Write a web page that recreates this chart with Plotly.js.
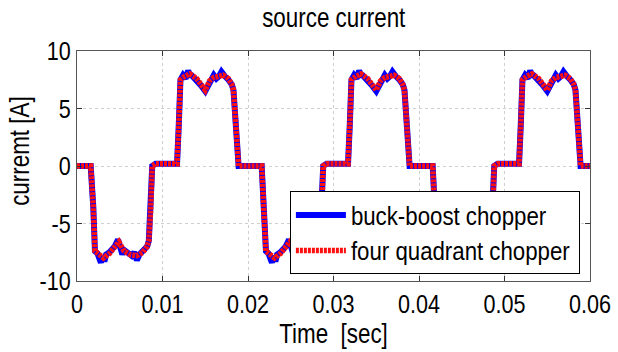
<!DOCTYPE html>
<html>
<head>
<meta charset="utf-8">
<script src="https://cdn.plot.ly/plotly-3.0.1.min.js"></script>
<style>html,body{margin:0;padding:0;background:#fff;}#chart{width:618px;height:352px;}</style>
</head>
<body>
<div id="chart"></div>
<script>
// Buck-boost chopper (blue, with small switching spikes)
var timeBuckBoost = [
  0, 0.0016, 0.0019, 0.0021, 0.0024, 0.0026, 0.0028, 0.0030, 0.0032, 0.0034, 0.0038, 0.0044, 0.0048, 0.0050, 0.0053, 0.0055, 0.0060, 0.0064, 0.0067, 0.0070, 0.0073, 0.0077, 0.0082, 0.0084, 0.0086, 0.0088, 0.0092,
  0.0117, 0.0119, 0.0121, 0.0124, 0.0127, 0.0130, 0.0132, 0.0134, 0.0140, 0.0145, 0.0150, 0.0155, 0.0158, 0.0160, 0.0163, 0.0166, 0.0169, 0.0171, 0.0173, 0.0177, 0.0181, 0.0183, 0.0186, 0.0189,
  0.0216, 0.0219, 0.0221, 0.0224, 0.0226, 0.0228, 0.0230, 0.0232, 0.0234, 0.0238, 0.0244, 0.0248, 0.0250, 0.0253, 0.0255, 0.0260, 0.0264, 0.0267, 0.0270, 0.0273, 0.0277, 0.0282, 0.0284, 0.0286, 0.0288, 0.0292,
  0.0317, 0.0319, 0.0321, 0.0324, 0.0327, 0.0330, 0.0332, 0.0334, 0.0340, 0.0345, 0.0350, 0.0355, 0.0358, 0.0360, 0.0363, 0.0366, 0.0369, 0.0371, 0.0373, 0.0377, 0.0381, 0.0383, 0.0386, 0.0389,
  0.0416, 0.0419, 0.0421, 0.0424, 0.0426, 0.0428, 0.0430, 0.0432, 0.0434, 0.0438, 0.0444, 0.0448, 0.0450, 0.0453, 0.0455, 0.0460, 0.0464, 0.0467, 0.0470, 0.0473, 0.0477, 0.0482, 0.0484, 0.0486, 0.0488, 0.0492,
  0.0517, 0.0519, 0.0521, 0.0524, 0.0527, 0.0530, 0.0532, 0.0534, 0.0540, 0.0545, 0.0550, 0.0555, 0.0558, 0.0560, 0.0563, 0.0566, 0.0569, 0.0571, 0.0573, 0.0577, 0.0581, 0.0583, 0.0586, 0.0589, 0.0600
];
var currentBuckBoost = [
  0, 0, -3.5, -7.4, -7.6, -7.9, -8.4, -7.8, -8.3, -7.7, -7.5, -7.0, -6.4, -6.9, -7.7, -7.3, -7.6, -7.8, -7.5, -8.2, -7.7, -7.4, -7.0, -6.5, -4.0, 0, 0.2,
  0.2, 3.5, 7.5, 7.9, 7.6, 8.3, 7.9, 7.9, 7.5, 7.0, 6.5, 7.3, 7.7, 7.9, 7.6, 7.8, 8.2, 7.9, 7.8, 7.5, 7.1, 6.6, 3.5, 0,
  0, -3.5, -7.4, -7.6, -7.9, -8.4, -7.8, -8.3, -7.7, -7.5, -7.0, -6.4, -6.9, -7.7, -7.3, -7.6, -7.8, -7.5, -8.2, -7.7, -7.4, -7.0, -6.5, -4.0, 0, 0.2,
  0.2, 3.5, 7.5, 7.9, 7.6, 8.3, 7.9, 7.9, 7.5, 7.0, 6.5, 7.3, 7.7, 7.9, 7.6, 7.8, 8.2, 7.9, 7.8, 7.5, 7.1, 6.6, 3.5, 0,
  0, -3.5, -7.4, -7.6, -7.9, -8.4, -7.8, -8.3, -7.7, -7.5, -7.0, -6.4, -6.9, -7.7, -7.3, -7.6, -7.8, -7.5, -8.2, -7.7, -7.4, -7.0, -6.5, -4.0, 0, 0.2,
  0.2, 3.5, 7.5, 7.9, 7.6, 8.3, 7.9, 7.9, 7.5, 7.0, 6.5, 7.3, 7.7, 7.9, 7.6, 7.8, 8.2, 7.9, 7.8, 7.5, 7.1, 6.6, 3.5, 0, 0
];
// Four quadrant chopper (red, smoother)
var timeFourQuadrant = [
  0, 0.0016, 0.0019, 0.0021, 0.0026, 0.0031, 0.0038, 0.0044, 0.0049, 0.0055, 0.0062, 0.0070, 0.0077, 0.0082, 0.0084, 0.0086, 0.0088, 0.0092,
  0.0117, 0.0119, 0.0121, 0.0126, 0.0132, 0.0140, 0.0145, 0.0150, 0.0155, 0.0160, 0.0166, 0.0171, 0.0177, 0.0181, 0.0183, 0.0186, 0.0189,
  0.0216, 0.0219, 0.0221, 0.0226, 0.0231, 0.0238, 0.0244, 0.0249, 0.0255, 0.0262, 0.0270, 0.0277, 0.0282, 0.0284, 0.0286, 0.0288, 0.0292,
  0.0317, 0.0319, 0.0321, 0.0326, 0.0332, 0.0340, 0.0345, 0.0350, 0.0355, 0.0360, 0.0366, 0.0371, 0.0377, 0.0381, 0.0383, 0.0386, 0.0389,
  0.0416, 0.0419, 0.0421, 0.0426, 0.0431, 0.0438, 0.0444, 0.0449, 0.0455, 0.0462, 0.0470, 0.0477, 0.0482, 0.0484, 0.0486, 0.0488, 0.0492,
  0.0517, 0.0519, 0.0521, 0.0526, 0.0532, 0.0540, 0.0545, 0.0550, 0.0555, 0.0560, 0.0566, 0.0571, 0.0577, 0.0581, 0.0583, 0.0586, 0.0589, 0.0600
];
var currentFourQuadrant = [
  0, 0, -3.5, -7.4, -7.7, -8.0, -7.6, -7.0, -6.6, -7.4, -7.7, -7.8, -7.5, -7.0, -6.5, -4.0, 0, 0.2,
  0.2, 3.5, 7.5, 7.8, 8.0, 7.6, 7.0, 6.6, 7.4, 7.7, 7.8, 7.9, 7.6, 7.1, 6.6, 3.5, 0,
  0, -3.5, -7.4, -7.7, -8.0, -7.6, -7.0, -6.6, -7.4, -7.7, -7.8, -7.5, -7.0, -6.5, -4.0, 0, 0.2,
  0.2, 3.5, 7.5, 7.8, 8.0, 7.6, 7.0, 6.6, 7.4, 7.7, 7.8, 7.9, 7.6, 7.1, 6.6, 3.5, 0,
  0, -3.5, -7.4, -7.7, -8.0, -7.6, -7.0, -6.6, -7.4, -7.7, -7.8, -7.5, -7.0, -6.5, -4.0, 0, 0.2,
  0.2, 3.5, 7.5, 7.8, 8.0, 7.6, 7.0, 6.6, 7.4, 7.7, 7.8, 7.9, 7.6, 7.1, 6.6, 3.5, 0, 0
];
var xTickValues = [0, 0.01, 0.02, 0.03, 0.04, 0.05, 0.06];
var xTickLabels = ['0', '0.01', '0.02', '0.03', '0.04', '0.05', '0.06'];
var yTickValues = [-10, -5, 0, 5, 10];
var yTickLabels = ['-10', '-5', '0', '5', '10'];

var FONT = '"Liberation Sans", Arial, sans-serif';
var SX = 0.83;        // horizontal condensing of text (narrow face)
var SX_LEGEND = 0.89; // legend uses a slightly smaller font, condensed less

var traces = [
  {x: timeBuckBoost, y: currentBuckBoost, type: 'scatter', mode: 'lines', name: 'buck-boost chopper',
   line: {color: '#0000ff', width: 6}},
  {x: timeFourQuadrant, y: currentFourQuadrant, type: 'scatter', mode: 'lines', name: 'four quadrant chopper',
   line: {color: '#ff1010', width: 5.5, dash: '3px,1px'}}
];

var axisCommon = {
  showline: true, linecolor: '#555555', linewidth: 1, mirror: 'allticks',
  ticks: 'inside', ticklen: 5, tickcolor: '#333333',
  showgrid: true, gridcolor: '#cfcfcf', griddash: 'dot', gridwidth: 1,
  zeroline: false, automargin: false, tickfont: {family: FONT, size: 26, color: '#000'}
};

var layout = {
  width: 618, height: 352,
  margin: {l: 77, r: 28, t: 51, b: 71, autoexpand: false},
  paper_bgcolor: '#fff', plot_bgcolor: '#fff',
  font: {family: FONT, color: '#000'},
  title: {text: 'source current', font: {family: FONT, size: 27, color: '#000'}, automargin: false,
          x: 0.54, xanchor: 'center', y: 0.95, yanchor: 'middle', yref: 'container'},
  xaxis: Object.assign({}, axisCommon, {
    range: [0, 0.06], tickvals: xTickValues, ticktext: xTickLabels,
    title: {text: 'Time&nbsp;&nbsp;[sec]', font: {family: FONT, size: 27, color: '#000'}, standoff: 1}
  }),
  yaxis: Object.assign({}, axisCommon, {
    range: [-10, 10], tickvals: yTickValues, ticktext: yTickLabels
  }),
  annotations: [{
    text: 'curremt [A]', textangle: -90, showarrow: false,
    xref: 'paper', yref: 'paper', x: -0.111, y: 0.565, xanchor: 'center', yanchor: 'middle',
    font: {family: FONT, size: 27, color: '#000'}
  }],
  showlegend: true,
  legend: {x: 0.415, y: 0.39, xanchor: 'left', yanchor: 'top',
           bgcolor: '#fff', bordercolor: '#000', borderwidth: 1,
           font: {family: FONT, size: 25, color: '#000'}, itemwidth: 50, tracegroupgap: 0}
};

function condenseText(gd) {
  var texts = gd.querySelectorAll('svg text');
  texts.forEach(function (t) {
    if (!t.textContent) return;
    var bb = t.getBBox();
    if (!bb.width) return;
    var sx = t.classList.contains('legendtext') ? SX_LEGEND : SX;
    var anchor = t.getAttribute('text-anchor') || 'start';
    var cx = anchor === 'middle' ? bb.x + bb.width / 2 : (anchor === 'end' ? bb.x + bb.width : bb.x);
    var tr = t.getAttribute('transform') || '';
    t.setAttribute('transform', tr + ' translate(' + cx + ',0) scale(' + sx + ',1) translate(' + (-cx) + ',0)');
  });
  // shrink legend box to the condensed text
  var leg = gd.querySelector('.legend');
  if (leg) {
    var bg = leg.querySelector('rect.bg');
    var bgBox = bg.getBoundingClientRect();
    var maxRight = 0;
    leg.querySelectorAll('text.legendtext').forEach(function (t) {
      var r = t.getBoundingClientRect();
      if (r.right > maxRight) maxRight = r.right;
    });
    var w = Math.round(maxRight - bgBox.left + 10);
    bg.setAttribute('width', w);
    leg.querySelectorAll('clipPath rect, rect.scrollbox-bg').forEach(function (r) { r.setAttribute('width', w); });
  }
}

Plotly.newPlot('chart', traces, layout, {staticPlot: true, displayModeBar: false}).then(function (gd) {
  condenseText(gd);
});
</script>
</body>
</html>
